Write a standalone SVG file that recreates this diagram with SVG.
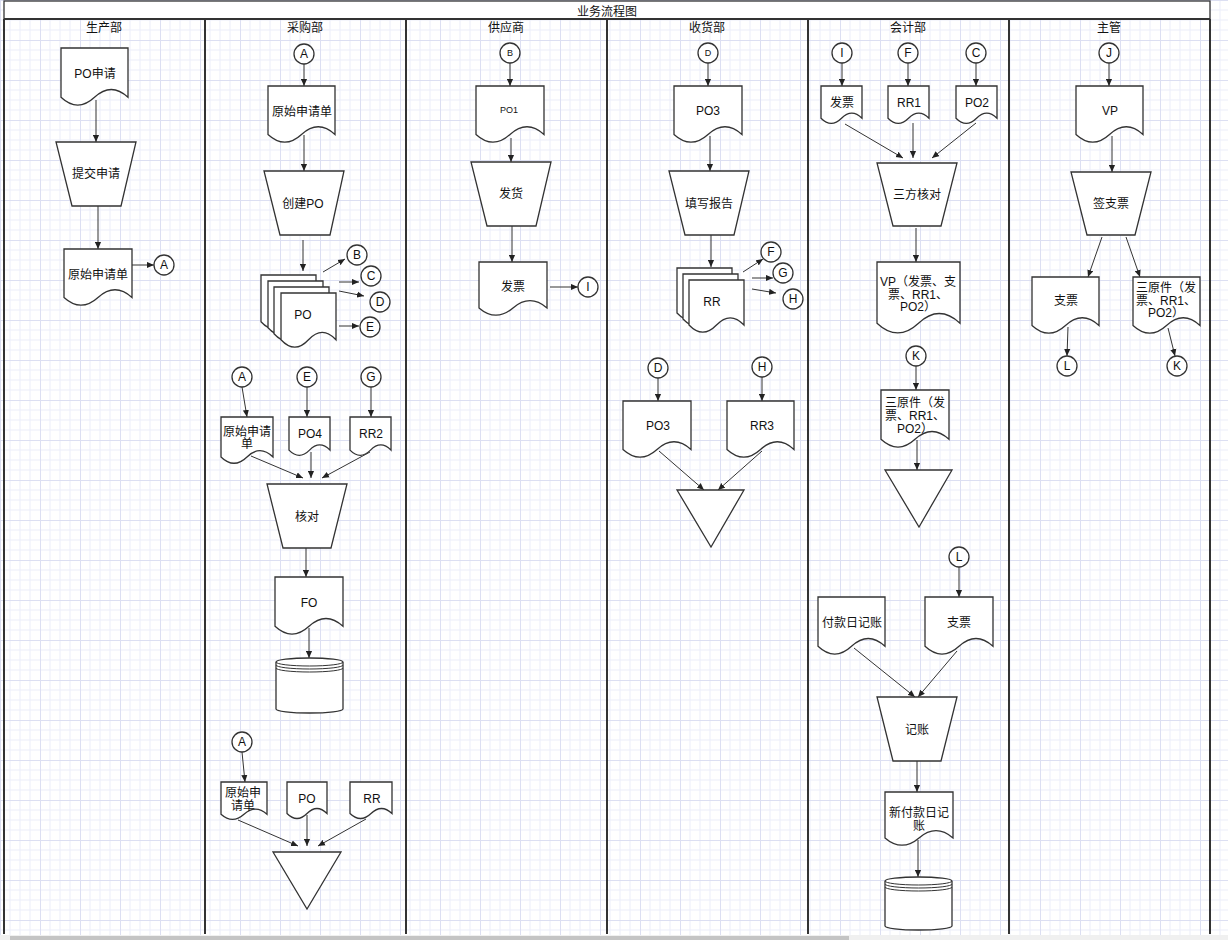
<svg xmlns="http://www.w3.org/2000/svg" width="1228" height="940" viewBox="0 0 1228 940">
<defs>
<pattern id="grid" width="40" height="40" patternUnits="userSpaceOnUse">
<rect width="40" height="40" fill="#ffffff"/>
<path d="M10,0 V40 M20,0 V40 M30,0 V40 M0,10 H40 M0,20 H40 M0,30 H40" stroke="#eceefa" stroke-width="1" fill="none"/>
<path d="M0.5,0 V40 M0,0.5 H40" stroke="#dcdff2" stroke-width="1" fill="none"/>
</pattern>
<marker id="arr" viewBox="0 0 8 8" refX="8" refY="4" markerWidth="7" markerHeight="7" orient="auto" markerUnits="userSpaceOnUse">
<path d="M0,0.5 L8,4 L0,7.5 Z" fill="#222"/>
</marker>
<style>
.lane{stroke:#333;stroke-width:2;fill:none}
.shape{fill:#fff;stroke:#333;stroke-width:1.3}
.line{fill:none;stroke:#333;stroke-width:1}
.edge{fill:none;stroke:#333;stroke-width:1;marker-end:url(#arr)}
.t{font-family:"Liberation Sans","Noto Sans CJK SC",sans-serif;font-size:12px;fill:#111;text-anchor:middle}
.s{font-size:9px}
</style>
</defs>

<rect x="0" y="0" width="1228" height="940" fill="url(#grid)"/>

<g id="frame">
<rect x="4" y="1" width="1206" height="18" fill="#fff" stroke="#333" stroke-width="1.3"/>
<text class="t" x="607" y="16">业务流程图</text>
<line class="lane" x1="4" y1="19" x2="1210" y2="19"/>
<line class="lane" x1="4" y1="19" x2="4" y2="934"/>
<line class="lane" x1="205" y1="19" x2="205" y2="934"/>
<line class="lane" x1="406" y1="19" x2="406" y2="934"/>
<line class="lane" x1="607" y1="19" x2="607" y2="934"/>
<line class="lane" x1="808" y1="19" x2="808" y2="934"/>
<line class="lane" x1="1009" y1="19" x2="1009" y2="934"/>
<line class="lane" x1="1210" y1="19" x2="1210" y2="934"/>
<text class="t" x="104" y="32">生产部</text>
<text class="t" x="305" y="32">采购部</text>
<text class="t" x="506" y="32">供应商</text>
<text class="t" x="707" y="32">收货部</text>
<text class="t" x="908" y="32">会计部</text>
<text class="t" x="1109" y="32">主管</text>
<rect x="0" y="935" width="1228" height="5" fill="#f0f0f0"/>
<rect x="10" y="936" width="839" height="4" fill="#c4c4c4"/>
</g>

<g id="connectors">
<path class="edge" d="M96,100 V142"/>
<path class="edge" d="M98,206 V249"/>
<path class="edge" d="M132,265 H154"/>
<path class="edge" d="M304,64 V86"/>
<path class="edge" d="M304,135 V171"/>
<path class="edge" d="M303,240 V271"/>
<path class="edge" d="M323,272 L345,259"/>
<path class="edge" d="M339,282 H359"/>
<path class="edge" d="M339,291 L364,296"/>
<path class="edge" d="M339,326 H359"/>
<path class="edge" d="M242,387 L247,417"/>
<path class="edge" d="M307,387 V417"/>
<path class="edge" d="M371,387 V417"/>
<path class="edge" d="M251,456 L303,478"/>
<path class="edge" d="M311,452 V478"/>
<path class="edge" d="M370,452 L322,478"/>
<path class="edge" d="M306,548 V577"/>
<path class="edge" d="M309,628 V658"/>
<path class="edge" d="M242,752 L245,782"/>
<path class="edge" d="M238,820 L298,846"/>
<path class="edge" d="M307,815 V846"/>
<path class="edge" d="M366,819 L318,846"/>
<path class="edge" d="M510,63 V86"/>
<path class="edge" d="M511,138 V162"/>
<path class="edge" d="M512,226 V262"/>
<path class="edge" d="M550,287 H578"/>
<path class="edge" d="M708,63 V86"/>
<path class="edge" d="M710,136 V171"/>
<path class="edge" d="M711,235 V267"/>
<path class="edge" d="M743,272 L763,259"/>
<path class="edge" d="M752,278 H773"/>
<path class="edge" d="M752,289 L776,293"/>
<path class="edge" d="M658,378 V401"/>
<path class="edge" d="M762,377 V401"/>
<path class="edge" d="M659,451 L704,490"/>
<path class="edge" d="M762,451 L718,490"/>
<path class="edge" d="M842,63 V86"/>
<path class="edge" d="M908,63 V86"/>
<path class="edge" d="M976,63 V86"/>
<path class="edge" d="M845,124 L903,158"/>
<path class="edge" d="M913,123 V158"/>
<path class="edge" d="M976,123 L932,158"/>
<path class="edge" d="M916,228 V262"/>
<path class="edge" d="M916,366 V390"/>
<path class="edge" d="M917,440 V470"/>
<path class="edge" d="M959,567 V597"/>
<path class="edge" d="M854,648 L915,697"/>
<path class="edge" d="M957,651 L918,697"/>
<path class="edge" d="M917,761 V792"/>
<path class="edge" d="M918,840 V877"/>
<path class="edge" d="M1109,63 V86"/>
<path class="edge" d="M1112,136 V172"/>
<path class="edge" d="M1102,237 L1088,277"/>
<path class="edge" d="M1126,237 L1140,277"/>
<path class="edge" d="M1068,327 L1067,356"/>
<path class="edge" d="M1168,328 L1175,356"/>
</g>

<!-- 生产部 -->
<g id="n-po-req"><path class="shape" d="M61,48 H128 V97.3 Q111.25,81.64 94.5,97.3 Q77.75,112.96 61,97.3 Z"/><text class="t" x="95" y="78">PO申请</text></g>
<g id="n-submit"><polygon class="shape" points="56,142 136,142 121,206 72,206"/><text class="t" x="96" y="178">提交申请</text></g>
<g id="n-orig1"><path class="shape" d="M64,249 H132 V297.45 Q115,282.06 98,297.45 Q81,312.84 64,297.45 Z"/><text class="t" x="98" y="279">原始申请单</text></g>
<g id="c-a1"><circle class="shape" cx="164" cy="265" r="10"/><text class="t" x="164" y="269">A</text></g>

<!-- 采购部 -->
<g id="c-a2"><circle class="shape" cx="304" cy="54" r="10"/><text class="t" x="304" y="58">A</text></g>
<g id="n-orig2"><path class="shape" d="M268,86 H335 V134.45 Q318.25,119.06 301.5,134.45 Q284.75,149.84 268,134.45 Z"/><text class="t" x="302" y="116">原始申请单</text></g>
<g id="n-create-po"><polygon class="shape" points="264,171 344,171 330,235 280,235"/><text class="t" x="303" y="208">创建PO</text></g>
<g id="n-po-multi">
<path class="shape" d="M261,275 H316 V321.75 Q302.25,306.9 288.5,321.75 Q274.75,336.6 261,321.75 Z"/>
<path class="shape" d="M268,281 H323 V327.75 Q309.25,312.9 295.5,327.75 Q281.75,342.6 268,327.75 Z"/>
<path class="shape" d="M274,287 H329 V333.75 Q315.25,318.9 301.5,333.75 Q287.75,348.6 274,333.75 Z"/>
<path class="shape" d="M281,293 H336 V339.75 Q322.25,324.9 308.5,339.75 Q294.75,354.6 281,339.75 Z"/>
<text class="t" x="303" y="319">PO</text>
</g>
<g id="c-b1"><circle class="shape" cx="357" cy="255" r="10"/><text class="t" x="357" y="259">B</text></g>
<g id="c-c1"><circle class="shape" cx="371" cy="276" r="10"/><text class="t" x="371" y="280">C</text></g>
<g id="c-d1"><circle class="shape" cx="380" cy="302" r="10"/><text class="t" x="380" y="306">D</text></g>
<g id="c-e1"><circle class="shape" cx="370" cy="327" r="10"/><text class="t" x="370" y="331">E</text></g>

<g id="c-a3"><circle class="shape" cx="242" cy="377" r="10"/><text class="t" x="242" y="381">A</text></g>
<g id="c-e2"><circle class="shape" cx="307" cy="377" r="10"/><text class="t" x="307" y="381">E</text></g>
<g id="c-g2"><circle class="shape" cx="371" cy="377" r="10"/><text class="t" x="371" y="381">G</text></g>
<g id="n-orig3"><path class="shape" d="M221,417 H273 V456.95 Q260,444.26 247,456.95 Q234,469.64 221,456.95 Z"/><text class="t" x="247" y="436">原始申请<tspan x="247" dy="12">单</tspan></text></g>
<g id="n-po4"><path class="shape" d="M289,417 H330 V450.15 Q319.75,439.62 309.5,450.15 Q299.25,460.68 289,450.15 Z"/><text class="t" x="310" y="438">PO4</text></g>
<g id="n-rr2"><path class="shape" d="M350,417 H391 V450.15 Q380.75,439.62 370.5,450.15 Q360.25,460.68 350,450.15 Z"/><text class="t" x="371" y="438">RR2</text></g>
<g id="n-check"><polygon class="shape" points="267,484 347,484 331,548 283,548"/><text class="t" x="307" y="521">核对</text></g>
<g id="n-fo"><path class="shape" d="M275,577 H343 V626.3 Q326,610.64 309,626.3 Q292,641.96 275,626.3 Z"/><text class="t" x="309" y="607">FO</text></g>
<g id="n-db1">
<path class="shape" d="M276,662 A33.5,4 0 0 1 343,662 V709 A33.5,4 0 0 1 276,709 Z"/>
<path class="line" d="M276,662 A33.5,4 0 0 0 343,662 M276,665 A33.5,4 0 0 0 343,665 M276,668 A33.5,4 0 0 0 343,668"/>
</g>

<g id="c-a4"><circle class="shape" cx="242" cy="742" r="10"/><text class="t" x="242" y="746">A</text></g>
<g id="n-orig4"><path class="shape" d="M221,782 H267 V814.3 Q255.5,804.04 244,814.3 Q232.5,824.56 221,814.3 Z"/><text class="t" x="243" y="797">原始申<tspan x="243" dy="13">请单</tspan></text></g>
<g id="n-po5"><path class="shape" d="M287,782 H327 V813.45 Q317,803.46 307,813.45 Q297,823.44 287,813.45 Z"/><text class="t" x="307" y="803">PO</text></g>
<g id="n-rr5"><path class="shape" d="M350,782 H392 V813.45 Q381.5,803.46 371,813.45 Q360.5,823.44 350,813.45 Z"/><text class="t" x="372" y="803">RR</text></g>
<g id="n-merge1"><polygon class="shape" points="273,852 341,852 307,909"/></g>

<!-- 供应商 -->
<g id="c-b2"><circle class="shape" cx="510" cy="53" r="10"/><text class="t s" x="510" y="56">B</text></g>
<g id="n-po1"><path class="shape" d="M476,86 H544 V134.45 Q527,119.06 510,134.45 Q493,149.84 476,134.45 Z"/><text class="t s" x="509" y="113">PO1</text></g>
<g id="n-ship"><polygon class="shape" points="471,162 551,162 536,226 487,226"/><text class="t" x="511" y="198">发货</text></g>
<g id="n-invoice1"><path class="shape" d="M479,262 H547 V307.9 Q530,293.32 513,307.9 Q496,322.48 479,307.9 Z"/><text class="t" x="513" y="291">发票</text></g>
<g id="c-i1"><circle class="shape" cx="588" cy="287" r="10"/><text class="t" x="588" y="291">I</text></g>

<!-- 收货部 -->
<g id="c-d2"><circle class="shape" cx="708" cy="53" r="10"/><text class="t s" x="708" y="56">D</text></g>
<g id="n-po3a"><path class="shape" d="M674,86 H742 V134.45 Q725,119.06 708,134.45 Q691,149.84 674,134.45 Z"/><text class="t" x="708" y="115">PO3</text></g>
<g id="n-report"><polygon class="shape" points="669,171 749,171 734,235 685,235"/><text class="t" x="709" y="208">填写报告</text></g>
<g id="n-rr-multi">
<path class="shape" d="M677,268 H732 V313.05 Q718.25,298.74 704.5,313.05 Q690.75,327.36 677,313.05 Z"/>
<path class="shape" d="M683,274 H738 V319.05 Q724.25,304.74 710.5,319.05 Q696.75,333.36 683,319.05 Z"/>
<path class="shape" d="M689,280 H744 V325.05 Q730.25,310.74 716.5,325.05 Q702.75,339.36 689,325.05 Z"/>
<text class="t" x="712" y="306">RR</text>
</g>
<g id="c-f1"><circle class="shape" cx="771" cy="252" r="10"/><text class="t" x="771" y="256">F</text></g>
<g id="c-g1"><circle class="shape" cx="783" cy="273" r="10"/><text class="t" x="783" y="277">G</text></g>
<g id="c-h1"><circle class="shape" cx="793" cy="299" r="10"/><text class="t" x="793" y="303">H</text></g>
<g id="c-d3"><circle class="shape" cx="658" cy="368" r="10"/><text class="t" x="658" y="372">D</text></g>
<g id="c-h2"><circle class="shape" cx="762" cy="367" r="10"/><text class="t" x="762" y="371">H</text></g>
<g id="n-po3b"><path class="shape" d="M623,401 H691 V449.45 Q674,434.06 657,449.45 Q640,464.84 623,449.45 Z"/><text class="t" x="658" y="430">PO3</text></g>
<g id="n-rr3"><path class="shape" d="M727,401 H794 V449.45 Q777.25,434.06 760.5,449.45 Q743.75,464.84 727,449.45 Z"/><text class="t" x="762" y="430">RR3</text></g>
<g id="n-merge2"><polygon class="shape" points="677,490 744,490 711,547"/></g>

<!-- 会计部 -->
<g id="c-i2"><circle class="shape" cx="842" cy="53" r="10"/><text class="t" x="842" y="57">I</text></g>
<g id="c-f2"><circle class="shape" cx="908" cy="53" r="10"/><text class="t" x="908" y="57">F</text></g>
<g id="c-c2"><circle class="shape" cx="976" cy="53" r="10"/><text class="t" x="976" y="57">C</text></g>
<g id="n-invoice2"><path class="shape" d="M821,86 H862 V118.3 Q851.75,108.04 841.5,118.3 Q831.25,128.56 821,118.3 Z"/><text class="t" x="842" y="107">发票</text></g>
<g id="n-rr1"><path class="shape" d="M888,86 H929 V118.3 Q918.75,108.04 908.5,118.3 Q898.25,128.56 888,118.3 Z"/><text class="t" x="909" y="107">RR1</text></g>
<g id="n-po2"><path class="shape" d="M956,86 H997 V118.3 Q986.75,108.04 976.5,118.3 Q966.25,128.56 956,118.3 Z"/><text class="t" x="977" y="107">PO2</text></g>
<g id="n-3way"><polygon class="shape" points="877,163 957,163 941,226 893,226"/><text class="t" x="917" y="199">三方核对</text></g>
<g id="n-vp-set"><path class="shape" d="M877,262 H960 V323.2 Q939.25,303.76 918.5,323.2 Q897.75,342.64 877,323.2 Z"/><text class="t" x="918" y="286">VP（发票、支<tspan x="918" dy="12.5">票、RR1、</tspan><tspan x="918" dy="12.5">PO2）</tspan></text></g>
<g id="c-k1"><circle class="shape" cx="916" cy="356" r="10"/><text class="t" x="916" y="360">K</text></g>
<g id="n-3docs1"><path class="shape" d="M881,390 H949 V439.3 Q932,423.64 915,439.3 Q898,454.96 881,439.3 Z"/><text class="t" x="915" y="407">三原件（发<tspan x="915" dy="13">票、RR1、</tspan><tspan x="915" dy="13">PO2）</tspan></text></g>
<g id="n-merge3"><polygon class="shape" points="885,470 952,470 919,527"/></g>
<g id="c-l1"><circle class="shape" cx="959" cy="557" r="10"/><text class="t" x="959" y="561">L</text></g>
<g id="n-journal"><path class="shape" d="M818,597 H885 V646.3 Q868.25,630.64 851.5,646.3 Q834.75,661.96 818,646.3 Z"/><text class="t" x="852" y="627">付款日记账</text></g>
<g id="n-cheque1"><path class="shape" d="M925,597 H993 V646.3 Q976,630.64 959,646.3 Q942,661.96 925,646.3 Z"/><text class="t" x="959" y="627">支票</text></g>
<g id="n-post"><polygon class="shape" points="877,697 957,697 941,761 893,761"/><text class="t" x="917" y="734">记账</text></g>
<g id="n-newjournal"><path class="shape" d="M885,792 H953 V837.9 Q936,823.32 919,837.9 Q902,852.48 885,837.9 Z"/><text class="t" x="919" y="817">新付款日记<tspan x="919" dy="13">账</tspan></text></g>
<g id="n-db2">
<path class="shape" d="M885,881 A33.5,4 0 0 1 952,881 V926 A33.5,4 0 0 1 885,926 Z"/>
<path class="line" d="M885,881 A33.5,4 0 0 0 952,881 M885,884 A33.5,4 0 0 0 952,884 M885,887 A33.5,4 0 0 0 952,887"/>
</g>

<!-- 主管 -->
<g id="c-j"><circle class="shape" cx="1109" cy="53" r="10"/><text class="t" x="1109" y="57">J</text></g>
<g id="n-vp"><path class="shape" d="M1076,86 H1143 V134.45 Q1126.25,119.06 1109.5,134.45 Q1092.75,149.84 1076,134.45 Z"/><text class="t" x="1110" y="115">VP</text></g>
<g id="n-sign"><polygon class="shape" points="1071,172 1151,172 1135,235 1087,235"/><text class="t" x="1111" y="208">签支票</text></g>
<g id="n-cheque2"><path class="shape" d="M1032,277 H1099 V325.45 Q1082.25,310.06 1065.5,325.45 Q1048.75,340.84 1032,325.45 Z"/><text class="t" x="1066" y="305">支票</text></g>
<g id="n-3docs2"><path class="shape" d="M1133,277 H1200 V325.45 Q1183.25,310.06 1166.5,325.45 Q1149.75,340.84 1133,325.45 Z"/><text class="t" x="1166" y="292">三原件（发<tspan x="1166" dy="12.5">票、RR1、</tspan><tspan x="1166" dy="12.5">PO2）</tspan></text></g>
<g id="c-l2"><circle class="shape" cx="1067" cy="366" r="10"/><text class="t" x="1067" y="370">L</text></g>
<g id="c-k2"><circle class="shape" cx="1177" cy="366" r="10"/><text class="t" x="1177" y="370">K</text></g>
</svg>
